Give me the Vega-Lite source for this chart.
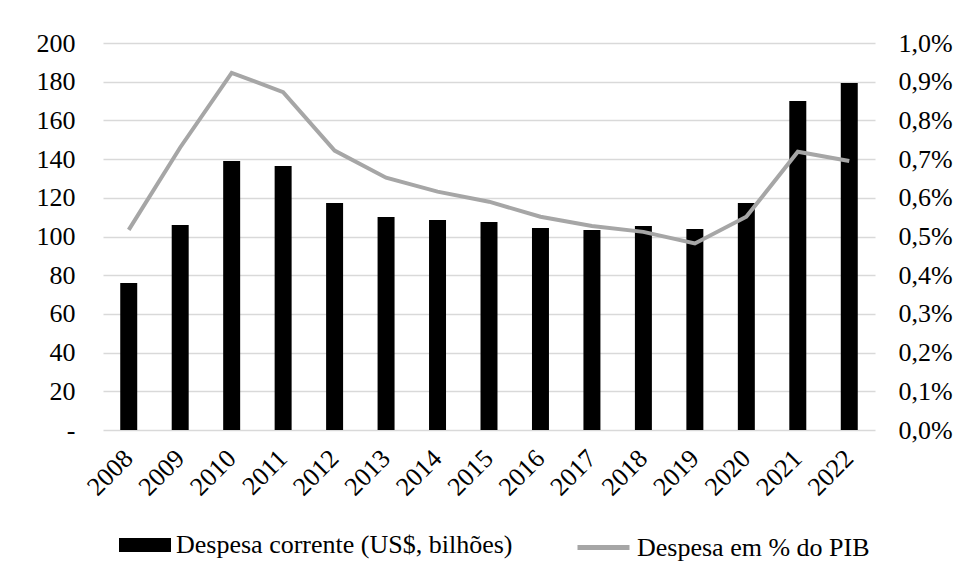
{
  "$schema": "https://vega.github.io/schema/vega-lite/v6.json",
  "width": 772,
  "height": 387,
  "autosize": {"type": "none"},
  "padding": {"left": 103, "top": 43, "right": 84, "bottom": 147},
  "background": "white",
  "config": {
    "font": "Liberation Serif",
    "view": {"stroke": null},
    "axis": {"labelFont": "Liberation Serif", "labelFontSize": 26, "labelColor": "black"},
    "legend": {"labelFont": "Liberation Serif", "labelFontSize": 26, "labelColor": "black", "labelLimit": 0}
  },
  "data": {
    "values": [
      {"ano": "2008", "despesa": 76.0, "pib": 0.00517},
      {"ano": "2009", "despesa": 106.0, "pib": 0.0073},
      {"ano": "2010", "despesa": 139.0, "pib": 0.00923},
      {"ano": "2011", "despesa": 136.4, "pib": 0.00873},
      {"ano": "2012", "despesa": 117.3, "pib": 0.00722},
      {"ano": "2013", "despesa": 110.1, "pib": 0.00652},
      {"ano": "2014", "despesa": 108.5, "pib": 0.00616},
      {"ano": "2015", "despesa": 107.5, "pib": 0.0059},
      {"ano": "2016", "despesa": 104.4, "pib": 0.00551},
      {"ano": "2017", "despesa": 103.4, "pib": 0.00527},
      {"ano": "2018", "despesa": 105.4, "pib": 0.00512},
      {"ano": "2019", "despesa": 103.9, "pib": 0.00482},
      {"ano": "2020", "despesa": 117.3, "pib": 0.00551},
      {"ano": "2021", "despesa": 170.0, "pib": 0.00719},
      {"ano": "2022", "despesa": 179.3, "pib": 0.00695}
    ]
  },
  "encoding": {
    "x": {
      "field": "ano",
      "type": "ordinal",
      "scale": {"paddingInner": 0.67, "paddingOuter": 0.335},
      "axis": {
        "title": null,
        "labelAngle": -45,
        "labelAlign": "right",
        "labelBaseline": "middle",
        "labelPadding": 24,
        "ticks": false,
        "domain": false,
        "grid": false
      }
    }
  },
  "layer": [
    {
      "mark": {"type": "bar", "color": "black"},
      "encoding": {
        "y": {
          "field": "despesa",
          "type": "quantitative",
          "scale": {"domain": [0, 200]},
          "axis": {
            "title": null,
            "orient": "left",
            "values": [0, 20, 40, 60, 80, 100, 120, 140, 160, 180, 200],
            "labelExpr": "datum.value == 0 ? '-' : datum.label",
            "grid": true,
            "gridColor": "#d9d9d9",
            "gridWidth": 1.5,
            "domain": false,
            "ticks": false,
            "labelPadding": 28
          }
        },
        "color": {
          "datum": "Despesa corrente (US$, bilhões)",
          "scale": {"range": ["black"]},
          "legend": {
            "title": null,
            "orient": "none",
            "legendX": 16,
            "legendY": 476,
            "padding": 0,
            "symbolType": "M-1,-0.27H1V0.27H-1Z",
            "symbolSize": 2704,
            "symbolStrokeWidth": 0,
            "labelOffset": 5,
            "labelLimit": 0
          }
        }
      }
    },
    {
      "mark": {"type": "line", "strokeWidth": 4},
      "encoding": {
        "y": {
          "field": "pib",
          "type": "quantitative",
          "scale": {"domain": [0, 0.01]},
          "axis": {
            "title": null,
            "orient": "right",
            "values": [0, 0.001, 0.002, 0.003, 0.004, 0.005, 0.006, 0.007, 0.008, 0.009, 0.01],
            "labelExpr": "replace(format(datum.value, '.1%'), '.', ',')",
            "grid": false,
            "domain": false,
            "ticks": false,
            "labelPadding": 23
          }
        },
        "stroke": {
          "datum": "Despesa em % do PIB",
          "scale": {"range": ["#a6a6a6"]},
          "legend": {
            "title": null,
            "orient": "none",
            "legendX": 472,
            "legendY": 476,
            "padding": 0,
            "symbolType": "stroke",
            "symbolSize": 2704,
            "symbolStrokeWidth": 5,
            "labelOffset": 5,
            "labelLimit": 0
          }
        }
      }
    }
  ],
  "resolve": {"scale": {"y": "independent"}}
}
